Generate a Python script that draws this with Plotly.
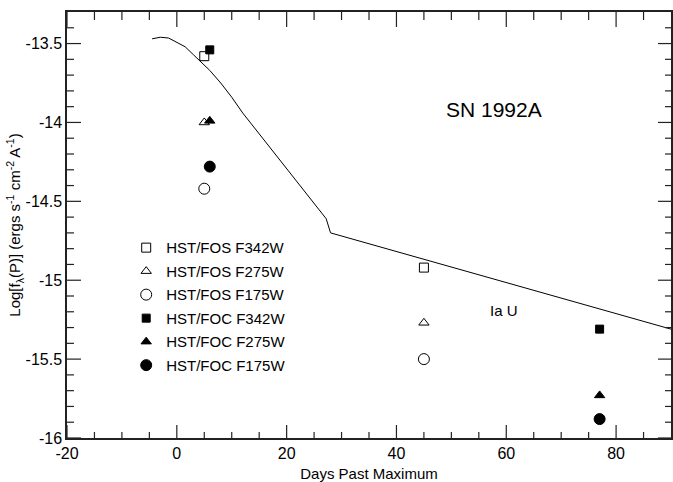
import plotly.graph_objects as go

# Model curve (Ia U template)
curve_x = [-4.5, -3.0, -1.5, 0.0, 1.5, 3.0, 4.5, 6.0, 8.0, 10.0, 12.0, 20.0, 27.2, 28.0, 90.0]
curve_y = [-13.47, -13.46, -13.465, -13.49, -13.52, -13.57, -13.62, -13.67, -13.75, -13.84,
           -13.94, -14.29, -14.61, -14.70, -15.31]

# Observations
fos_x = [5, 45]
fos_f342w = [-13.58, -14.92]
fos_f275w = [-14.00, -15.27]
fos_f175w = [-14.42, -15.50]

foc_x = [6, 77]
foc_f342w = [-13.54, -15.31]
foc_f275w = [-13.99, -15.73]
foc_f175w = [-14.28, -15.88]

x_ticks = [-20, 0, 20, 40, 60, 80]
x_labels = ["-20", "0", "20", "40", "60", "80"]
x_minor = [-15, -10, -5, 5, 10, 15, 25, 30, 35, 45, 50, 55, 65, 70, 75, 85]
y_ticks = [-16, -15.5, -15, -14.5, -14, -13.5]
y_labels = ["-16", "-15.5", "-15", "-14.5", "-14", "-13.5"]
y_minor = [-15.9, -15.8, -15.7, -15.6, -15.4, -15.3, -15.2, -15.1, -14.9, -14.8, -14.7, -14.6,
           -14.4, -14.3, -14.2, -14.1, -13.9, -13.8, -13.7, -13.6, -13.4]

FONT = "Liberation Sans, Arial, Helvetica, sans-serif"
TICK_COLOR = "#222"

fig = go.Figure()
fig.add_trace(go.Scatter(x=curve_x, y=curve_y, mode="lines",
                         line=dict(color="black", width=1), showlegend=False))

series = [
    ("HST/FOS F342W", fos_x, fos_f342w, "square-open", 9),
    ("HST/FOS F275W", fos_x, fos_f275w, "triangle-up-open", 9),
    ("HST/FOS F175W", fos_x, fos_f175w, "circle-open", 11),
    ("HST/FOC F342W", foc_x, foc_f342w, "square", 8),
    ("HST/FOC F275W", foc_x, foc_f275w, "triangle-up", 9),
    ("HST/FOC F175W", foc_x, foc_f175w, "circle", 11),
]
for i, (name, xs, ys, sym, sz) in enumerate(series):
    fig.add_trace(go.Scatter(x=xs, y=ys, mode="markers", name=name, legendgroup=f"g{i}",
                             marker=dict(symbol=sym, size=sz, color="black",
                                         line=dict(color="black", width=1))))

fig.update_xaxes(range=[-20, 90], tickmode="array", tickvals=x_ticks, ticktext=x_labels,
                 showgrid=False, zeroline=False, showline=True, linecolor=TICK_COLOR, linewidth=1.5,
                 mirror=True, ticks="",
                 tickfont=dict(family=FONT, size=16, color="black"),
                 title=dict(text="Days Past Maximum", font=dict(family=FONT, size=15, color="black"),
                            standoff=10))
fig.update_yaxes(range=[-16, -13.3], tickmode="array", tickvals=y_ticks, ticktext=y_labels,
                 showgrid=False, zeroline=False, showline=True, linecolor=TICK_COLOR, linewidth=1.5,
                 mirror=True, ticks="",
                 tickfont=dict(family=FONT, size=16, color="black"),
                 title=dict(text="Log[f<sub>λ</sub>(P)] (ergs s<sup>-1</sup> cm<sup>-2</sup> A<sup>-1</sup>)",
                            font=dict(family=FONT, size=15, color="black"), standoff=0))

# Inward tick marks on all four sides (pixel-length shapes anchored to the axis values)
def xtick(v, length, top):
    return dict(type="line", xref="x", yref="paper", x0=v, x1=v,
                ysizemode="pixel", yanchor=1 if top else 0,
                y0=0, y1=-length if top else length,
                line=dict(color=TICK_COLOR, width=1.2), layer="above")

def ytick(v, length, right):
    return dict(type="line", yref="y", xref="paper", y0=v, y1=v,
                xsizemode="pixel", xanchor=1 if right else 0,
                x0=0, x1=-length if right else length,
                line=dict(color=TICK_COLOR, width=1.2), layer="above")

shapes = []
for v in x_ticks:
    shapes.append(xtick(v, 13, False))
    shapes.append(xtick(v, 15, True))
for v in x_minor:
    shapes.append(xtick(v, 6, False))
    shapes.append(xtick(v, 8, True))
for v in y_ticks:
    shapes.append(ytick(v, 14, False))
    shapes.append(ytick(v, 13, True))
for v in y_minor:
    shapes.append(ytick(v, 7, False))
    shapes.append(ytick(v, 6, True))

fig.add_annotation(x=57.8, y=-13.92, text="SN 1992A", showarrow=False,
                   font=dict(family=FONT, size=21, color="black"))
fig.add_annotation(x=59.6, y=-15.19, text="Ia U", showarrow=False,
                   font=dict(family=FONT, size=15, color="black"))

fig.update_layout(
    width=673, height=482,
    margin=dict(l=67, r=0, t=12, b=44),
    paper_bgcolor="white", plot_bgcolor="white",
    shapes=shapes,
    legend=dict(x=0.098, y=0.485, xanchor="left", yanchor="top",
                font=dict(family=FONT, size=15, color="black"),
                bgcolor="rgba(0,0,0,0)", tracegroupgap=1),
)

fig.write_html("out.html")
